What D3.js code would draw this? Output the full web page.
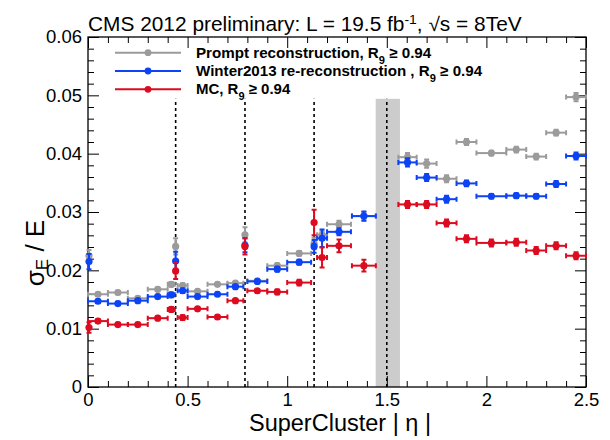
<!DOCTYPE html>
<html>
<head>
<meta charset="utf-8">
<script src="https://cdn.jsdelivr.net/npm/d3@7"></script>
<style>
  body { margin: 0; background: #fff; }
  text { font-family: "Liberation Sans", Arial, Helvetica, sans-serif; }
</style>
</head>
<body>
<div id="chart"></div>
<script>
// DATA: bins in SuperCluster |eta| (centre, half width)
const etaCenters = [0.005, 0.05, 0.15, 0.25, 0.35, 0.418, 0.44, 0.475, 0.55, 0.65, 0.74, 0.788,
  0.85, 0.95, 1.06, 1.135, 1.175, 1.26, 1.385, 1.604, 1.7, 1.8, 1.9, 2.025, 2.15, 2.25, 2.35, 2.45];
const etaHalfW = [0.005, 0.05, 0.05, 0.05, 0.05, 0.0175, 0, 0.025, 0.05, 0.05, 0.04, 0,
  0.05, 0.05, 0.06, 0, 0.025, 0.06, 0.06, 0.046, 0.05, 0.05, 0.05, 0.075, 0.05, 0.05, 0.05, 0.05];

// sigma_E / E for each sample
const promptVals = [0.0225, 0.0159, 0.0162, 0.0152, 0.01675, 0.0176, 0.0241, 0.0174, 0.0164, 0.0176, 0.0178, 0.0261,
  0.0182, 0.0208, 0.0229, 0.0246, 0.0261, 0.0279, 0.0293, 0.0394, 0.0383, 0.0357, 0.0420, 0.0401, 0.0407, 0.0395, 0.0436, 0.0497];
const promptErr = [0.001, 0.0003, 0.0003, 0.0003, 0.0003, 0.0004, 0.0014, 0.0004, 0.0003, 0.0003, 0.0003, 0.0013,
  0.0003, 0.0004, 0.0004, 0.0010, 0.0006, 0.0006, 0.0007, 0.0007, 0.0007, 0.0006, 0.0005, 0.0004, 0.0005, 0.0005, 0.0005, 0.0007];

const winterVals = [0.0215, 0.0147, 0.0143, 0.0148, 0.0155, 0.0158, 0.0216, 0.0165, 0.0155, 0.0159, 0.0172, 0.0243,
  0.0181, 0.0202, 0.0214, 0.0241, 0.0255, 0.0266, 0.0293, 0.0385, 0.0359, 0.0322, 0.0349, 0.0327, 0.0328, 0.0327, 0.0348, 0.0396];
const winterErr = [0.0013, 0.0003, 0.0003, 0.0003, 0.0003, 0.0004, 0.0016, 0.0004, 0.0003, 0.0003, 0.0003, 0.0012,
  0.0003, 0.0004, 0.0004, 0.0011, 0.0015, 0.0006, 0.0008, 0.0007, 0.0006, 0.0006, 0.0005, 0.0004, 0.0004, 0.0004, 0.0005, 0.0006];

const mcVals = [0.0102, 0.0113, 0.0107, 0.0107, 0.0118, 0.0133, 0.0199, 0.0119, 0.0134, 0.0120, 0.0148, 0.0241,
  0.0165, 0.0163, 0.0179, 0.0282, 0.0222, 0.0242, 0.0208, 0.0313, 0.0313, 0.0281, 0.0254, 0.0247, 0.0248, 0.0234, 0.0242, 0.0225];
const mcErr = [0.0009, 0.0003, 0.0003, 0.0003, 0.0003, 0.0004, 0.0014, 0.0004, 0.0003, 0.0003, 0.0003, 0.0014,
  0.0003, 0.0004, 0.0005, 0.0022, 0.0017, 0.0011, 0.0010, 0.0006, 0.0006, 0.0006, 0.0006, 0.0006, 0.0006, 0.0006, 0.0006, 0.0006];

const crackEta = [0.44, 0.788, 1.135, 1.5];   // dashed module boundaries
const gapEta = [1.4442, 1.566];               // barrel/endcap gap
const markerTop = 0.0494;                     // height of dashed lines and gap band
const xTicks = [0, 0.5, 1, 1.5, 2, 2.5];
const yTicks = [0, 0.01, 0.02, 0.03, 0.04, 0.05, 0.06];
const legendLabels = ['Prompt reconstruction, R', 'Winter2013 re-reconstruction , R', 'MC, R'];

// colors
var grayColor = '#9b9b9b';
var blueColor = '#0b43f5';
var redColor = '#dc0b1f';

const series = [
  {vals: promptVals, err: promptErr, color: grayColor},
  {vals: winterVals, err: winterErr, color: blueColor},
  {vals: mcVals, err: mcErr, color: redColor}
];

// LAYOUT
var svgW = 610, svgH = 440;
var padL = 88, padR = 586, padT = 37, padB = 387;
var majorTick = 11, minorTick = 6;
var tickFont = 18.5;

var svg = d3.select('#chart').append('svg')
    .attr('width', svgW)
    .attr('height', svgH);

var x = d3.scaleLinear().domain([0, 2.5]).range([padL, padR]);
var y = d3.scaleLinear().domain([0, 0.06]).range([padB, padT]);

// stretch text horizontally so it covers the same span as the reference
function fitWidth(t, target) {
  var bb = t.node().getBBox();
  var k = target / bb.width;
  t.attr('transform', 'translate(' + bb.x + ',0) scale(' + k + ',1) translate(' + (-bb.x) + ',0)');
}

// gap band + dashed lines
svg.append('rect')
    .attr('x', x(gapEta[0]))
    .attr('y', y(markerTop))
    .attr('width', x(gapEta[1]) - x(gapEta[0]))
    .attr('height', y(0) - y(markerTop))
    .attr('fill', '#cccccc');

svg.selectAll('line.crack')
  .data(crackEta)
  .enter()
  .append('line')
    .attr('class', 'crack')
    .attr('x1', d => x(d)).attr('x2', d => x(d))
    .attr('y1', y(0)).attr('y2', y(markerTop))
    .attr('stroke', '#000')
    .attr('stroke-width', 1.6)
    .attr('stroke-dasharray', '3,3');

// AXES
var minorX = d3.range(0, 26).map(i => i / 10).filter(v => Math.abs(v * 2 - Math.round(v * 2)) > 1e-6);
var minorY = d3.range(0, 31).map(i => i * 0.002).filter(v => Math.abs(v * 100 - Math.round(v * 100)) > 1e-6);

function styleAxis(g, fs) {
  g.attr('font-family', '"Liberation Sans", Arial, Helvetica, sans-serif')
   .attr('font-size', fs);
  g.selectAll('line').attr('stroke', '#000');
  g.selectAll('path.domain').remove();
  g.selectAll('text').attr('fill', '#000');
}

svg.append('g').attr('transform', 'translate(0,' + padB + ')')
  .call(d3.axisBottom(x).tickValues(xTicks).tickSize(-majorTick).tickSizeOuter(0).tickPadding(6).tickFormat(d3.format('~g')))
  .call(g => styleAxis(g, tickFont));
svg.append('g').attr('transform', 'translate(0,' + padB + ')')
  .call(d3.axisBottom(x).tickValues(minorX).tickSize(-minorTick).tickSizeOuter(0).tickFormat(''))
  .call(g => styleAxis(g, tickFont));
svg.append('g').attr('transform', 'translate(0,' + padT + ')')
  .call(d3.axisTop(x).tickValues(xTicks).tickSize(-majorTick).tickSizeOuter(0).tickFormat(''))
  .call(g => styleAxis(g, tickFont));
svg.append('g').attr('transform', 'translate(0,' + padT + ')')
  .call(d3.axisTop(x).tickValues(minorX).tickSize(-minorTick).tickSizeOuter(0).tickFormat(''))
  .call(g => styleAxis(g, tickFont));

svg.append('g').attr('transform', 'translate(' + padL + ',0)')
  .call(d3.axisLeft(y).tickValues(yTicks).tickSize(-majorTick).tickSizeOuter(0).tickPadding(6).tickFormat(d3.format('~g')))
  .call(g => styleAxis(g, tickFont));
svg.append('g').attr('transform', 'translate(' + padL + ',0)')
  .call(d3.axisLeft(y).tickValues(minorY).tickSize(-minorTick).tickSizeOuter(0).tickFormat(''))
  .call(g => styleAxis(g, tickFont));
svg.append('g').attr('transform', 'translate(' + padR + ',0)')
  .call(d3.axisRight(y).tickValues(yTicks).tickSize(-majorTick).tickSizeOuter(0).tickFormat(''))
  .call(g => styleAxis(g, tickFont));
svg.append('g').attr('transform', 'translate(' + padR + ',0)')
  .call(d3.axisRight(y).tickValues(minorY).tickSize(-minorTick).tickSizeOuter(0).tickFormat(''))
  .call(g => styleAxis(g, tickFont));

svg.append('rect')
    .attr('x', padL).attr('y', padT)
    .attr('width', padR - padL).attr('height', padB - padT)
    .attr('fill', 'none')
    .attr('stroke', '#000')
    .attr('stroke-width', 1.3);

// DATA POINTS
var cap = 2.5;
series.forEach(function(s) {
  var g = svg.append('g')
      .attr('stroke', s.color)
      .attr('fill', s.color)
      .attr('stroke-width', 2);
  var pts = g.selectAll('g.pt')
    .data(etaCenters.map((c, i) => ({c: c, hw: etaHalfW[i], v: s.vals[i], e: s.err[i]})))
    .enter()
    .append('g').attr('class', 'pt');
  // horizontal bar (bin width)
  pts.filter(d => d.hw > 0).append('line')
      .attr('x1', d => x(d.c - d.hw)).attr('x2', d => x(d.c + d.hw))
      .attr('y1', d => y(d.v)).attr('y2', d => y(d.v));
  pts.filter(d => d.hw > 0).append('path')
      .attr('fill', 'none')
      .attr('d', d => 'M' + x(d.c - d.hw) + ',' + (y(d.v) - cap) + 'V' + (y(d.v) + cap) +
                      'M' + x(d.c + d.hw) + ',' + (y(d.v) - cap) + 'V' + (y(d.v) + cap));
  // vertical bar (error)
  pts.append('path')
      .attr('fill', 'none')
      .attr('d', d => 'M' + x(d.c) + ',' + y(d.v - d.e) + 'V' + y(d.v + d.e) +
                      'M' + (x(d.c) - cap) + ',' + y(d.v - d.e) + 'H' + (x(d.c) + cap) +
                      'M' + (x(d.c) - cap) + ',' + y(d.v + d.e) + 'H' + (x(d.c) + cap));
  pts.append('circle')
      .attr('cx', d => x(d.c))
      .attr('cy', d => y(d.v))
      .attr('r', 3.6)
      .attr('stroke', 'none');
});

// LEGEND
var legRows = [52.7, 71, 89.3];
var legWidths = [236, 287, 95];
legendLabels.forEach(function(lbl, i) {
  var c = series[i].color;
  var ly = legRows[i];
  svg.append('line')
      .attr('x1', 115).attr('x2', 181)
      .attr('y1', ly).attr('y2', ly)
      .attr('stroke', c).attr('stroke-width', 2);
  svg.append('circle')
      .attr('cx', 148).attr('cy', ly).attr('r', 3.4)
      .attr('fill', c);
  var t = svg.append('text')
      .attr('x', 196).attr('y', ly + 5)
      .attr('font-size', 15)
      .attr('font-weight', 'bold')
      .style('font-family', '"Liberation Sans Narrow", "Liberation Sans", Arial, sans-serif');
  t.append('tspan').text(lbl);
  t.append('tspan').attr('font-size', 11).attr('dy', 6).text('9');
  t.append('tspan').attr('dy', -6).text(' \u2265 0.94');
  fitWidth(t, legWidths[i]);
});

// TITLE
var title = svg.append('text')
    .attr('x', 88).attr('y', 31)
    .attr('font-size', 19.5);
title.append('tspan').text('CMS 2012 preliminary: L = 19.5 fb');
title.append('tspan').attr('font-size', 13).attr('dy', -7).text('-1');
title.append('tspan').attr('dy', 7).text(', \u221As = 8TeV');
fitWidth(title, 434);

// AXIS TITLES
svg.append('text')
    .attr('x', 340).attr('y', 431)
    .attr('text-anchor', 'middle')
    .attr('font-size', 23.5)
    .text('SuperCluster | \u03b7 |');

var yl = svg.append('text')
    .attr('transform', 'translate(44,253) rotate(-90)')
    .attr('text-anchor', 'middle')
    .attr('font-size', 26);
yl.append('tspan').text('\u03c3');
yl.append('tspan').attr('font-size', 17).attr('dy', 4).text('E');
yl.append('tspan').attr('dy', -4).text(' / E');
</script>
</body>
</html>
